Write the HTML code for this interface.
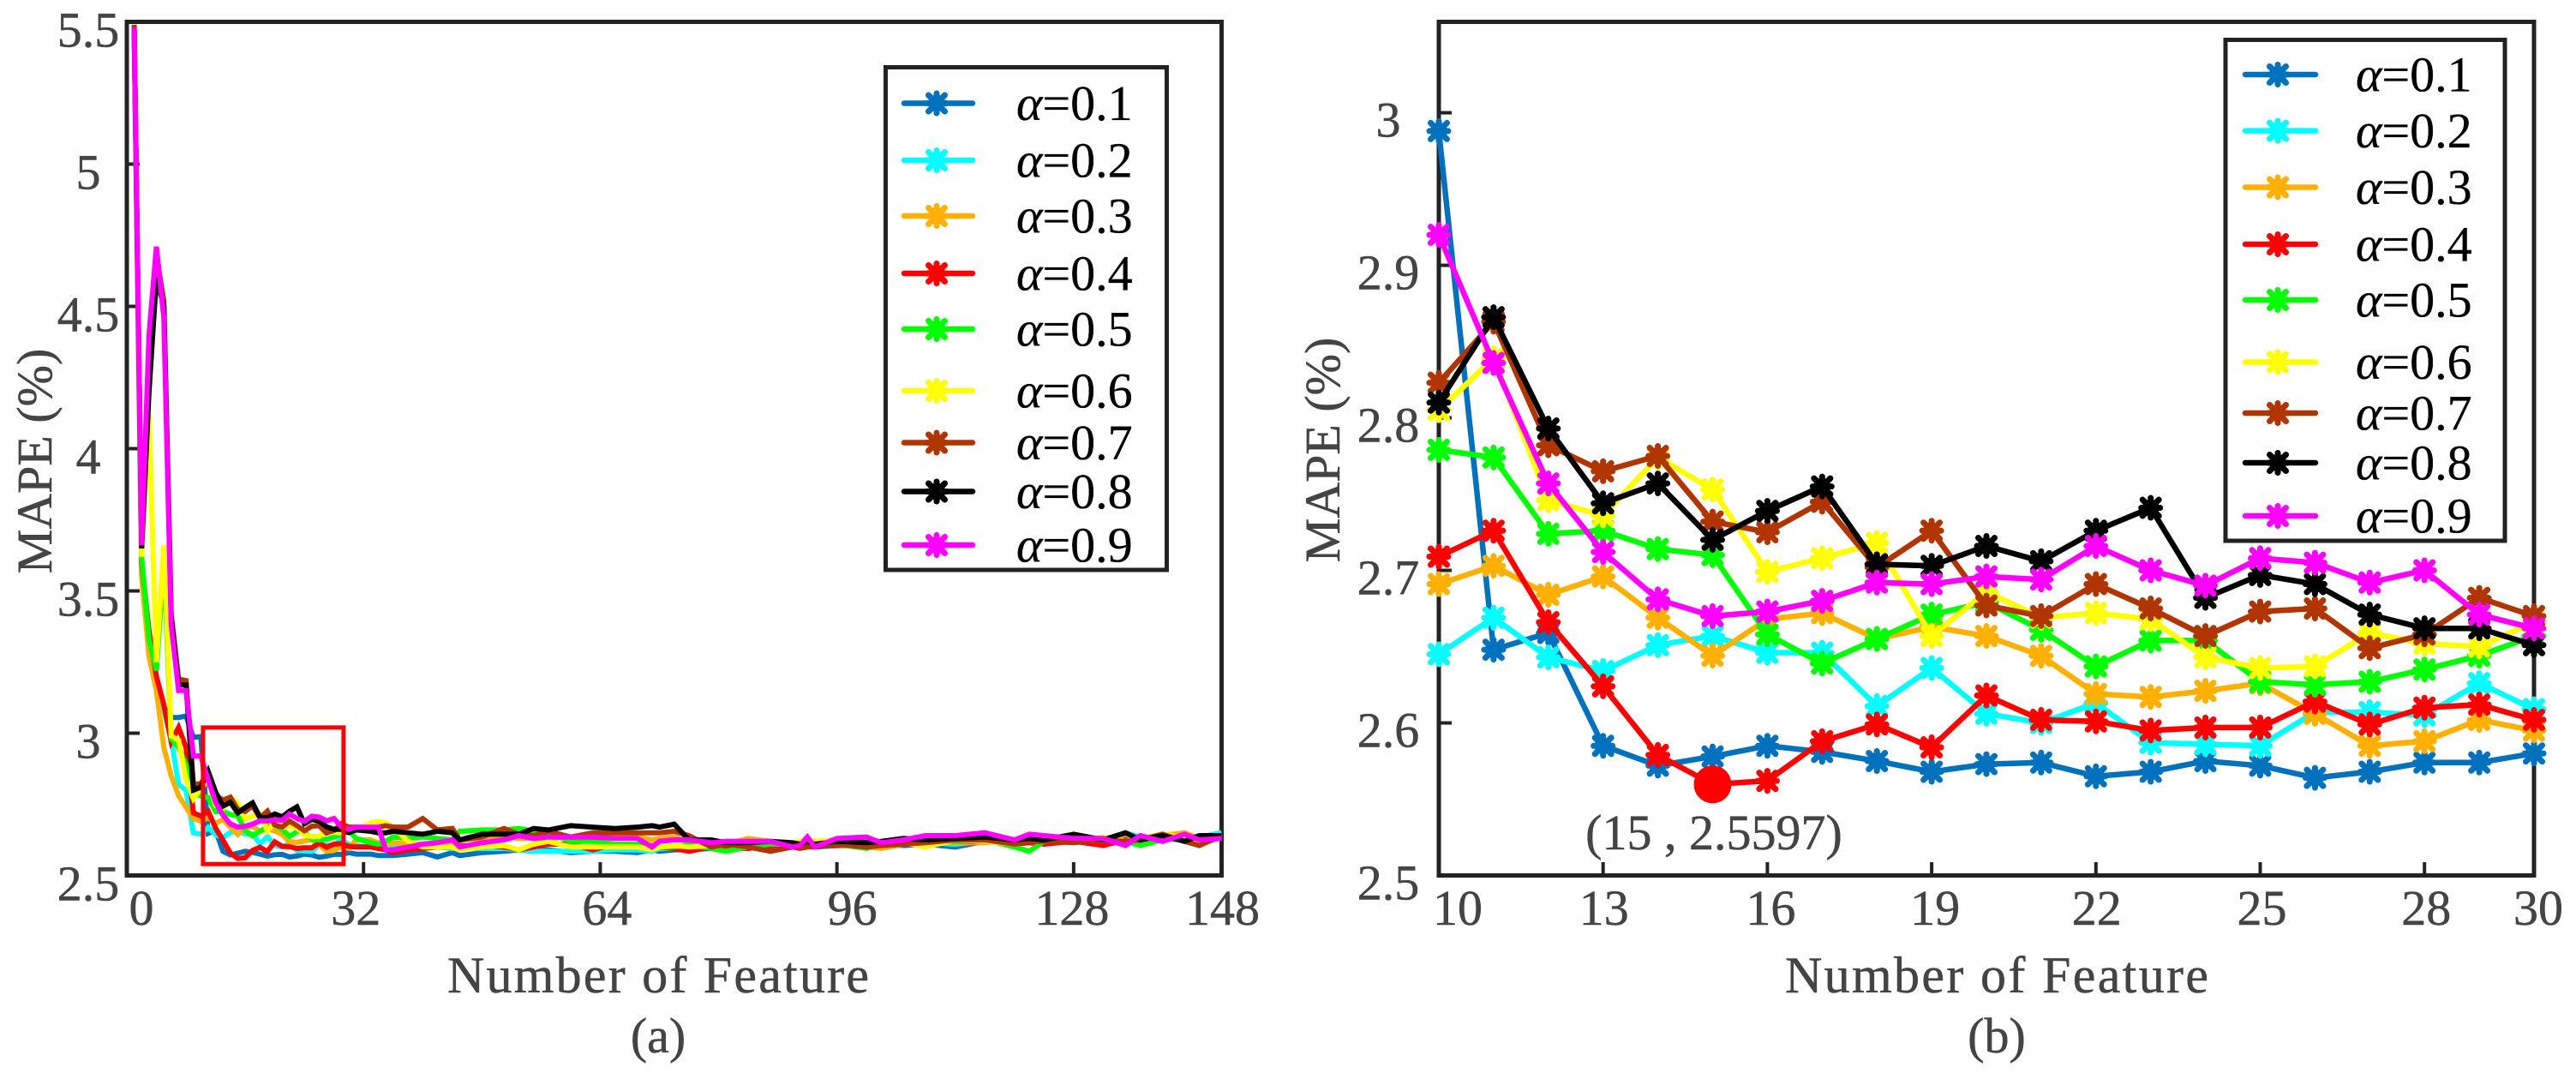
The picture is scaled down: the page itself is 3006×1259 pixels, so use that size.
<!DOCTYPE html>
<html lang="en">
<head>
<meta charset="utf-8">
<title>MAPE versus number of features</title>
<style>
html,body{margin:0;padding:0;background:#fff;width:3006px;height:1259px;overflow:hidden}
svg{display:block}
text{font-family:"Liberation Serif",serif;font-size:58px;fill:#444;stroke:#444;stroke-width:0.5px}
.leg{fill:#000;stroke:#000;stroke-width:0.3px}
.title{font-size:60px}
</style>
</head>
<body>
<svg id="fig" xmlns="http://www.w3.org/2000/svg" width="3006" height="1259" viewBox="0 0 3006 1259">
  <rect width="3006" height="1259" fill="#fff"/>
  <g id="panelA"></g>
  <g id="panelB"></g>
</svg>
<script>
// ---------- shared categories ----------
const seriesLabels = ["0.1","0.2","0.3","0.4","0.5","0.6","0.7","0.8","0.9"];
const seriesColors = ["#0072BD","#00FFFF","#FFB000","#FF0000","#00FF00","#FFFF00","#B03500","#000000","#FF00FF"];

// ---------- panel (b) data : features 10..30 ----------
const featuresMid = [10,11,12,13,14,15,16,17,18,19,20,21,22,23,24,25,26,27,28,29,30];
const mid01 = [2.988,2.648,2.659,2.585,2.572,2.578,2.585,2.581,2.575,2.568,2.573,2.574,2.565,2.568,2.575,2.572,2.564,2.568,2.574,2.574,2.580];
const mid02 = [2.645,2.669,2.643,2.634,2.651,2.657,2.646,2.646,2.611,2.636,2.606,2.600,2.613,2.587,2.586,2.585,2.607,2.607,2.605,2.626,2.609];
const mid03 = [2.691,2.703,2.684,2.696,2.669,2.644,2.668,2.672,2.655,2.663,2.657,2.644,2.619,2.617,2.621,2.626,2.606,2.585,2.588,2.602,2.595];
const mid04 = [2.709,2.726,2.666,2.624,2.579,2.5597,2.562,2.588,2.599,2.584,2.618,2.602,2.601,2.595,2.597,2.597,2.614,2.599,2.610,2.612,2.602];
const mid05 = [2.779,2.774,2.724,2.726,2.714,2.710,2.658,2.639,2.655,2.671,2.679,2.661,2.637,2.654,2.654,2.627,2.625,2.627,2.635,2.644,2.657];
const mid06 = [2.805,2.839,2.746,2.736,2.774,2.753,2.699,2.708,2.718,2.657,2.686,2.669,2.672,2.668,2.643,2.636,2.637,2.659,2.652,2.650,2.666];
const mid07 = [2.823,2.863,2.782,2.765,2.775,2.732,2.725,2.745,2.702,2.726,2.677,2.670,2.691,2.675,2.657,2.673,2.675,2.649,2.658,2.682,2.670];
const mid08 = [2.810,2.866,2.793,2.744,2.757,2.720,2.739,2.755,2.704,2.703,2.716,2.706,2.726,2.741,2.682,2.697,2.691,2.671,2.662,2.662,2.651];
const mid09 = [2.920,2.836,2.757,2.712,2.681,2.670,2.673,2.680,2.692,2.691,2.696,2.694,2.716,2.700,2.690,2.708,2.705,2.692,2.700,2.671,2.662];

// ---------- panel (a) data : features 1..9 ----------
const featuresHead = [1,2,3,4,5,6,7,8,9];
const head01 = [5.47,3.60,3.35,3.16,3.09,3.055,3.055,3.06,2.985];
const head02 = [5.47,3.60,3.30,3.20,3.08,2.98,2.82,2.80,2.65];
const head03 = [5.47,3.55,3.27,3.15,2.95,2.85,2.78,2.74,2.70];
const head04 = [5.47,3.60,3.36,3.20,3.10,2.97,3.02,2.95,2.72];
const head05 = [5.47,3.62,3.33,3.22,3.60,2.98,2.95,2.89,2.79];
const head06 = [5.47,3.62,4.12,3.25,3.66,2.99,2.975,2.84,2.77];
const head07 = [5.49,3.65,4.30,4.68,4.52,3.42,3.19,3.185,2.82];
const head08 = [5.47,3.65,4.20,4.60,4.50,3.40,3.17,3.17,2.80];
const head09 = [5.48,3.66,4.40,4.71,4.46,3.38,3.15,3.15,2.92];

// ---------- panel (a) data : features 31..148 ----------
const featuresTail = [31,33,34,35,36,38,40,42,44,45,48,51,53,55,57,60,63,66,69,71,72,74,76,79,81,84,87,90,91,92,93,96,100,102,105,108,112,116,120,122,124,128,132,135,137,140,143,145,148];
const tail01 = [2.575,2.575,2.57,2.57,2.57,2.575,2.58,2.565,2.58,2.57,2.58,2.585,2.59,2.585,2.59,2.58,2.585,2.585,2.58,2.59,2.585,2.59,2.59,2.595,2.595,2.60,2.60,2.605,2.60,2.605,2.60,2.605,2.61,2.61,2.605,2.61,2.60,2.62,2.615,2.62,2.625,2.62,2.63,2.64,2.63,2.645,2.635,2.63,2.645];
const tail02 = [2.605,2.60,2.60,2.60,2.60,2.60,2.60,2.60,2.595,2.60,2.595,2.595,2.59,2.585,2.585,2.585,2.585,2.59,2.59,2.585,2.595,2.595,2.60,2.60,2.60,2.605,2.605,2.605,2.61,2.61,2.61,2.61,2.61,2.615,2.61,2.615,2.61,2.62,2.625,2.62,2.625,2.63,2.625,2.65,2.635,2.63,2.64,2.635,2.65];
const tail03 = [2.625,2.625,2.615,2.61,2.615,2.61,2.61,2.615,2.62,2.625,2.63,2.635,2.63,2.63,2.63,2.635,2.635,2.645,2.635,2.625,2.63,2.635,2.62,2.605,2.61,2.63,2.62,2.61,2.615,2.615,2.61,2.605,2.60,2.595,2.61,2.62,2.615,2.615,2.625,2.615,2.615,2.625,2.62,2.63,2.625,2.64,2.65,2.63,2.635];
const tail04 = [2.60,2.60,2.595,2.59,2.58,2.59,2.595,2.60,2.60,2.605,2.605,2.60,2.59,2.60,2.61,2.61,2.59,2.61,2.60,2.605,2.60,2.595,2.585,2.60,2.595,2.595,2.605,2.61,2.61,2.605,2.61,2.605,2.61,2.615,2.61,2.615,2.62,2.62,2.61,2.615,2.61,2.62,2.605,2.625,2.61,2.63,2.625,2.61,2.635];
const tail05 = [2.63,2.615,2.61,2.62,2.635,2.63,2.635,2.63,2.625,2.655,2.66,2.66,2.665,2.655,2.65,2.62,2.62,2.61,2.61,2.595,2.60,2.60,2.61,2.595,2.585,2.60,2.61,2.61,2.61,2.605,2.61,2.61,2.595,2.61,2.615,2.615,2.62,2.625,2.60,2.585,2.62,2.62,2.625,2.62,2.605,2.625,2.63,2.625,2.63];
const tail06 = [2.66,2.685,2.69,2.685,2.67,2.62,2.60,2.60,2.60,2.59,2.60,2.605,2.59,2.61,2.62,2.60,2.60,2.60,2.60,2.59,2.60,2.605,2.60,2.605,2.61,2.615,2.62,2.615,2.62,2.625,2.62,2.625,2.615,2.62,2.615,2.60,2.625,2.62,2.61,2.625,2.62,2.62,2.635,2.62,2.63,2.645,2.635,2.62,2.64];
const tail07 = [2.67,2.665,2.67,2.675,2.67,2.67,2.70,2.66,2.665,2.625,2.635,2.665,2.645,2.64,2.655,2.635,2.65,2.65,2.65,2.65,2.65,2.655,2.64,2.60,2.61,2.60,2.585,2.60,2.595,2.60,2.60,2.61,2.60,2.605,2.61,2.615,2.625,2.625,2.61,2.62,2.62,2.615,2.625,2.62,2.625,2.645,2.62,2.605,2.64];
const tail08 = [2.66,2.655,2.65,2.65,2.655,2.65,2.645,2.655,2.65,2.625,2.645,2.645,2.645,2.665,2.66,2.675,2.67,2.665,2.67,2.675,2.67,2.68,2.625,2.625,2.615,2.615,2.62,2.615,2.61,2.62,2.61,2.62,2.615,2.62,2.63,2.625,2.63,2.635,2.625,2.63,2.625,2.645,2.625,2.65,2.625,2.64,2.62,2.64,2.64];
const tail09 = [2.67,2.67,2.67,2.59,2.59,2.60,2.61,2.615,2.625,2.60,2.615,2.625,2.64,2.63,2.635,2.635,2.635,2.63,2.63,2.60,2.62,2.625,2.625,2.615,2.62,2.62,2.62,2.60,2.605,2.635,2.60,2.63,2.635,2.615,2.625,2.64,2.64,2.65,2.625,2.645,2.64,2.63,2.63,2.605,2.64,2.62,2.645,2.625,2.63];

// ---------- ticks ----------
const xTicksA = [0,32,64,96,128,148];
const yTicksA = [2.5,3,3.5,4,4.5,5,5.5];
const yTickLabelsA = ["2.5","3","3.5","4","4.5","5","5.5"];
const xTicksB = [10,13,16,19,22,25,28,30];
const yTicksB = [2.5,2.6,2.7,2.8,2.9,3];
const yTickLabelsB = ["2.5","2.6","2.7","2.8","2.9","3"];

// ---------- highlighted optimum ----------
const bestFeature = 15;
const bestValue = 2.5597;
const bestLabel = "(15 , 2.5597)";

// ---------- axis functions ----------
const xMaxA = 148, yMinA = 2.5, yMaxA = 5.5;
const xMinB = 10, xMaxB = 30, yMinB = 2.5, yMaxB = 3.0596;
function xA(f){ return 148 + (f - 0) * (1425.5 - 148) / xMaxA; }
function yA(v){ return 1021.5 - (v - yMinA) * (1021.5 - 25.5) / (yMaxA - yMinA); }
function xB(f){ return 1679 + (f - xMinB) * (2957 - 1679) / (xMaxB - xMinB); }
function yB(v){ return 1021.5 - (v - yMinB) * (1021.5 - 25.5) / (yMaxB - yMinB); }

const NS = "http://www.w3.org/2000/svg";
function mk(tag, parent, attrs){
  const e = document.createElementNS(NS, tag);
  for (const k in attrs) e.setAttribute(k, attrs[k]);
  parent.appendChild(e);
  return e;
}

function drawMarker(parent, x, y, color){
  const g = mk("g", parent, {transform:"translate(" + x + " " + y + ")"});
  
  
  mk("path", g, {d:"M0 -11.5V11.5M-9.5 -9.5L9.5 9.5M-9.5 9.5L9.5 -9.5M-11 0H11", stroke:color, "stroke-width":7, "stroke-linecap":"round", fill:"none"});
  mk("circle", g, {r:10, fill:color});
}

function drawFrame(parent, l, r, t, b){
  const fr = mk("rect", parent, {x:l, y:t, width:r-l, height:b-t, fill:"#fff", stroke:"#222", "stroke-width":5});
  
  
}

function drawXAxis(parent, ticks, sx, offsets){
  ticks.forEach(function(t, i){
    const x = sx(t);
    const tick = mk("line", parent, {x1:x, x2:x, y1:1021.5, y2:1006, stroke:"#222", "stroke-width":4});
    
    
    const lab = mk("text", parent, {x:x + offsets[i], y:1079, "text-anchor":"middle"});
    
    
    lab.textContent = String(t);
  });
}

function drawYAxis(parent, ticks, labels, sy, xLeft, labelCx, dy){
  ticks.forEach(function(t, i){
    const y = sy(t);
    const tick = mk("line", parent, {x1:xLeft, x2:xLeft + 15, y1:y, y2:y, stroke:"#222", "stroke-width":4});
    
    
    const lab = mk("text", parent, {x:labelCx, y:y + dy, "text-anchor":"middle"});
    
    
    lab.textContent = labels[i];
  });
}

function drawTitles(parent, xStart, xLen, yTitleX, yTitleCy){
  const xt = mk("text", parent, {x:xStart, y:1158, textLength:xLen, lengthAdjust:"spacing", "class":"title"});
  
  
  xt.textContent = "Number of Feature";
  const yt = mk("text", parent, {transform:"translate(" + yTitleX + " " + yTitleCy + ") rotate(-90)", "text-anchor":"middle"});
  
  
  yt.textContent = "MAPE (%)";
}

function drawLegend(parent, box, rows, lineX1, lineX2, markX, textX){
  const lg = mk("g", parent, {});
  
  
  const bg = mk("rect", lg, {x:box[0], y:box[1], width:box[2]-box[0], height:box[3]-box[1], fill:"#fff", stroke:"#222", "stroke-width":5});
  
  
  seriesLabels.forEach(function(label, i){
    const y = rows[i];
    const row = mk("g", lg, {});
    
    
    mk("line", row, {x1:lineX1, x2:lineX2, y1:y, y2:y, stroke:seriesColors[i], "stroke-width":6.5, "stroke-linecap":"round"});
    drawMarker(row, markX, y, seriesColors[i]);
    const t = mk("text", row, {x:textX, y:y + 19.5, "class":"leg"});
    const a = mk("tspan", t, {"font-style":"italic", "class":"leg"});
    a.textContent = "\u03B1";
    const b = mk("tspan", t, {"class":"leg"});
    b.textContent = "=" + label;
  });
}

// ---------- panel (a) ----------
const panelA = document.getElementById("panelA");
const headsA = [head01,head02,head03,head04,head05,head06,head07,head08,head09];
const midsA = [mid01,mid02,mid03,mid04,mid05,mid06,mid07,mid08,mid09];
const tailsA = [tail01,tail02,tail03,tail04,tail05,tail06,tail07,tail08,tail09];
const featuresA = featuresHead.concat(featuresMid, featuresTail);

drawFrame(panelA, 148, 1425.5, 25.5, 1021.5);
drawXAxis(panelA, xTicksA, xA, [17,-9,8,18,-2,1]);
drawYAxis(panelA, yTicksA, yTickLabelsA, yA, 148, 103, 29);
drawTitles(panelA, 522, 492, 60, 538);

seriesLabels.forEach(function(label, i){
  const vals = headsA[i].concat(midsA[i], tailsA[i]);
  const pts = featuresA.map(function(f, k){ return xA(f).toFixed(1) + "," + yA(vals[k]).toFixed(1); }).join(" ");
  const line = mk("polyline", panelA, {points:pts, fill:"none", stroke:seriesColors[i], "stroke-width":6, "stroke-linejoin":"miter"});
  
  
});

const zoomBox = mk("rect", panelA, {x:xA(10.3), y:yA(3.02), width:xA(29.3)-xA(10.3), height:yA(2.54)-yA(3.02), fill:"none", stroke:"#FF0000", "stroke-width":5});



drawLegend(panelA, [1033.5,78.5,1361.5,665], [120.5,187,252,319,384,456,516.5,573.5,636], 1055, 1135, 1093, 1186);

const capA = mk("text", panelA, {x:768, y:1228, "text-anchor":"middle"});


capA.textContent = "(a)";

// ---------- panel (b) ----------
const panelB = document.getElementById("panelB");
drawFrame(panelB, 1679, 2957, 25.5, 1021.5);
drawXAxis(panelB, xTicksB, xB, [22,1,4,4,1,2,2,5]);
drawYAxis(panelB, yTicksB, yTickLabelsB, yB, 1679, 1620, 28);
drawTitles(panelB, 2083, 494, 1563, 525);

seriesLabels.forEach(function(label, i){
  const vals = midsA[i];
  const pts = featuresMid.map(function(f, k){ return xB(f).toFixed(1) + "," + yB(vals[k]).toFixed(1); }).join(" ");
  const g = mk("g", panelB, {});
  
  
  const line = mk("polyline", g, {points:pts, fill:"none", stroke:seriesColors[i], "stroke-width":6.5});
  
  
  featuresMid.forEach(function(f, k){ drawMarker(g, xB(f), yB(vals[k]), seriesColors[i]); });
});

const bestDot = mk("circle", panelB, {cx:xB(bestFeature), cy:yB(bestValue), r:22, fill:"#FF0000"});



const bestText = mk("text", panelB, {x:2000, y:991, "text-anchor":"middle"});


bestText.textContent = bestLabel;

drawLegend(panelB, [2597,46.5,2923,631], [87,152.6,218.5,285,350,422.5,482,540,602], 2620, 2702, 2658, 2749);

const capB = mk("text", panelB, {x:2330, y:1228, "text-anchor":"middle"});


capB.textContent = "(b)";
</script>
</body>
</html>
